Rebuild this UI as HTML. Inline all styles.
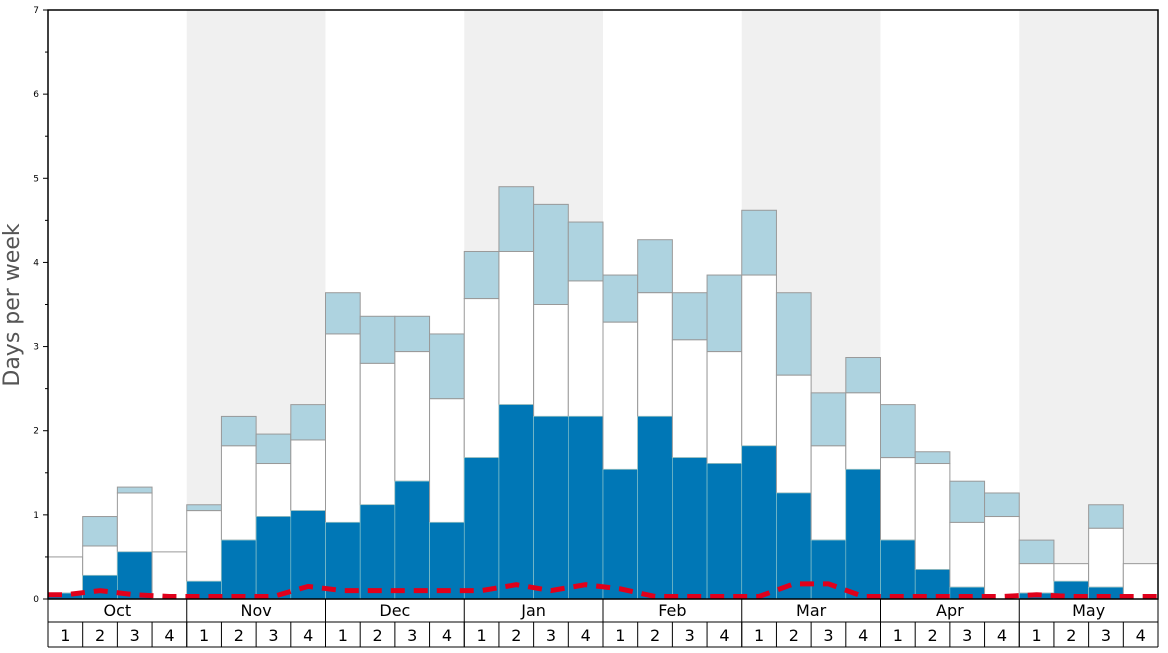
<!DOCTYPE html>
<html><head><meta charset="utf-8"><style>
body{margin:0;background:#fff;font-family:"Liberation Sans","DejaVu Sans",sans-serif}
svg text{font-family:"DejaVu Sans","Liberation Sans",sans-serif}
</style></head><body>
<svg id="chart" width="1168" height="648" xmlns="http://www.w3.org/2000/svg"></svg>
<script>
const months=["Oct","Nov","Dec","Jan","Feb","Mar","Apr","May"];
const weeks=["1","2","3","4"];
const darkVals=[0.07,0.28,0.56,0,0.21,0.7,0.98,1.05,0.91,1.12,1.4,0.91,1.68,2.31,2.17,2.17,1.54,2.17,1.68,1.61,1.82,1.26,0.7,1.54,0.7,0.35,0.14,0,0.07,0.21,0.14,0];
const whiteVals=[0.5,0.63,1.26,0.56,1.05,1.82,1.61,1.89,3.15,2.8,2.94,2.38,3.57,4.13,3.5,3.78,3.29,3.64,3.08,2.94,3.85,2.66,1.82,2.45,1.68,1.61,0.91,0.98,0.42,0.42,0.84,0.42];
const lightVals=[0.5,0.98,1.33,0.56,1.12,2.17,1.96,2.31,3.64,3.36,3.36,3.15,4.13,4.9,4.69,4.48,3.85,4.27,3.64,3.85,4.62,3.64,2.45,2.87,2.31,1.75,1.4,1.26,0.7,0.42,1.12,0.42];
const lineVals=[0.05,0.1,0.05,0.03,0.03,0.03,0.03,0.15,0.1,0.1,0.1,0.1,0.1,0.17,0.1,0.17,0.12,0.03,0.03,0.03,0.03,0.18,0.18,0.03,0.03,0.03,0.03,0.03,0.05,0.03,0.03,0.03];
const yTicks=[0,1,2,3,4,5,6,7];

const svg=document.getElementById('chart');
const NS="http://www.w3.org/2000/svg";
const L=48,R=1158,T=10,B=599,YMAX=7;
const n=darkVals.length, bw=(R-L)/n;
const x=i=>L+i*bw;
const y=v=>B-(v/YMAX)*(B-T);
function mk(tag,attrs,parent){const e=document.createElementNS(NS,tag);for(const k in attrs)e.setAttribute(k,attrs[k]);(parent||svg).appendChild(e);return e;}

// month bands
months.forEach((m,mi)=>{
  if(mi%2===1){const r=mk('rect',{x:x(mi*4),y:T,width:bw*4,height:B-T,fill:'#f0f0f0'});
    
    }
});
// bars
for(let i=0;i<n;i++){
  const g=mk('g',{});
  
  
  if(lightVals[i]>whiteVals[i]) mk('rect',{x:x(i),y:y(lightVals[i]),width:bw,height:y(whiteVals[i])-y(lightVals[i]),fill:'#aed3e0',stroke:'#999','stroke-width':1},g);
  if(whiteVals[i]>darkVals[i]) mk('rect',{x:x(i),y:y(whiteVals[i]),width:bw,height:y(darkVals[i])-y(whiteVals[i]),fill:'#fff',stroke:'#999','stroke-width':1},g);
  if(darkVals[i]>0) mk('rect',{x:x(i),y:y(darkVals[i]),width:bw,height:B-y(darkVals[i]),fill:'#0077b6',stroke:'#9cc','stroke-width':0.6},g);
}
// dashed line
let d='';
lineVals.forEach((v,i)=>{d+=(i?'L':'M')+(x(i)+bw/2)+','+y(v);});
const p=mk('path',{d:'M'+L+','+y(lineVals[0])+d.replace(/^M/,'L')+'L'+R+','+y(lineVals[n-1]),fill:'none',stroke:'#e0001b','stroke-width':5,'stroke-dasharray':'14,9'});


// frame
mk('rect',{x:L,y:T,width:R-L,height:B-T,fill:'none',stroke:'#000','stroke-width':1.5});
// y ticks
yTicks.forEach(v=>{
  mk('line',{x1:L-5,x2:L,y1:y(v),y2:y(v),stroke:'#000'});
  if(v<YMAX) mk('line',{x1:L-3,x2:L,y1:y(v+0.5),y2:y(v+0.5),stroke:'#000'});
  const t=mk('text',{x:L-9,y:y(v)+3,'font-size':9,'text-anchor':'end',fill:'#000'});
  t.textContent=v;
  
  
});
const yt=mk('text',{x:19,y:305,'font-size':22,fill:'#555','text-anchor':'middle',transform:'rotate(-90 19 305)'});
yt.textContent='Days per week';


// x axis rows
mk('line',{x1:L,x2:R,y1:622,y2:622,stroke:'#000'});
mk('line',{x1:L,x2:R,y1:647,y2:647,stroke:'#000'});
mk('line',{x1:L,x2:L,y1:B,y2:647,stroke:'#000'});
mk('line',{x1:R,x2:R,y1:B,y2:647,stroke:'#000'});
months.forEach((m,mi)=>{
  mk('line',{x1:x(mi*4),x2:x(mi*4),y1:B,y2:647,stroke:'#000'});
  const t=mk('text',{x:x(mi*4)+bw*2,y:616,'font-size':16,'text-anchor':'middle'});
  t.textContent=m;
  
  
  weeks.forEach((w,wi)=>{
    const i=mi*4+wi;
    mk('line',{x1:x(i),x2:x(i),y1:622,y2:647,stroke:'#000'});
    const tw=mk('text',{x:x(i)+bw/2,y:641,'font-size':16,'text-anchor':'middle'});
    tw.textContent=w;
    
    
  });
});
</script>
</body></html>
